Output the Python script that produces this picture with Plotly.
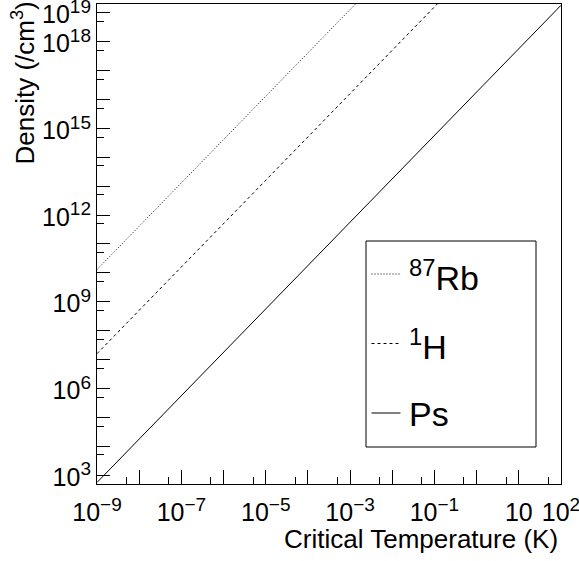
import plotly.graph_objects as go

# ---- data ----
temperature_K = [1e-9, 1e2]
rb87_density = [1.3e10, 4.0e26]
h1_density = [1.6e7, 5.0e23]
ps_density = [5.6e2, 1.8e19]

x_major = [1e-9, 1e-8, 1e-7, 1e-6, 1e-5, 1e-4, 1e-3, 1e-2, 1e-1, 1e0, 1e1, 1e2]
x_exp = ["−9", "", "−7", "", "−5", "", "−3", "", "−1", "", None, "2"]
x_minor = [5e-9, 5e-8, 5e-7, 5e-6, 5e-5, 5e-4, 5e-3, 5e-2, 5e-1, 5e0, 5e1]

y_major = [10.0 ** e for e in range(3, 20)]
y_exp = ["3", "", "", "6", "", "", "9", "", "", "12", "", "", "15", "", "", "18", "19"]
y_minor = [5 * 10.0 ** e for e in range(3, 19)]

FONT = "Liberation Sans, Arial, Helvetica, sans-serif"
SUP = "<sup><span style='font-size:19px'>%s</span></sup>"


def label(e):
    if e is None:
        return "10"
    if e == "":
        return ""
    return "10" + SUP % e


x_labels = [label(e) for e in x_exp]
y_labels = [label(e) for e in y_exp]

W, H = 579, 561
L, R, T, B = 97, 18, 4, 77
PW, PH = W - L - R, H - T - B


def px(xp):
    return (xp - L) / PW


def py(yp):
    return (H - B - yp) / PH


fig = go.Figure()
fig.add_trace(go.Scatter(x=temperature_K, y=rb87_density, mode="lines",
                         line=dict(color="black", width=1, dash="1px,2px"), name="87Rb"))
fig.add_trace(go.Scatter(x=temperature_K, y=h1_density, mode="lines",
                         line=dict(color="black", width=1, dash="3px,3px"), name="1H"))
fig.add_trace(go.Scatter(x=temperature_K, y=ps_density, mode="lines",
                         line=dict(color="black", width=1), name="Ps"))

axis_common = dict(type="log", showgrid=False, zeroline=False, automargin=False,
                   showline=True, linecolor="black", linewidth=1, mirror=True,
                   ticks="inside", tickcolor="black", tickwidth=1, tickmode="array",
                   ticklabeloverflow="allow",
                   tickfont=dict(size=25, family=FONT, color="black"))

fig.update_layout(
    template="none",
    width=W, height=H,
    margin=dict(l=L, r=R, t=T, b=B, autoexpand=False),
    paper_bgcolor="white", plot_bgcolor="white",
    showlegend=False,
    font=dict(family=FONT, color="black"),
    xaxis=dict(axis_common, range=[-9, 2], ticklen=14, ticklabelstandoff=6,
               tickvals=x_major, ticktext=x_labels,
               minor=dict(tickmode="array", tickvals=x_minor, ticks="inside",
                          ticklen=7, tickcolor="black", tickwidth=1, showgrid=False)),
    yaxis=dict(axis_common, range=[2.695, 19.30], ticklen=13, ticklabelshift=2,
               tickvals=y_major, ticktext=y_labels,
               minor=dict(tickmode="array", tickvals=y_minor, ticks="inside",
                          ticklen=7, tickcolor="black", tickwidth=1, showgrid=False)),
)

# axis titles (ROOT style, right aligned)
fig.add_annotation(text="Critical Temperature (K)", xref="paper", yref="paper",
                   x=px(560), y=py(522), xanchor="right", yanchor="top",
                   showarrow=False, font=dict(size=26, family=FONT))
fig.add_annotation(text="Density (/cm<sup>3</sup>)", xref="paper", yref="paper",
                   x=px(24), y=py(0), xanchor="center", yanchor="top", textangle=-90,
                   showarrow=False, font=dict(size=26, family=FONT))

# legend box
fig.add_shape(type="rect", xref="paper", yref="paper",
              x0=px(366), x1=px(536), y0=py(447), y1=py(241),
              line=dict(color="black", width=1), fillcolor="white", layer="above")
entries = [("<sup>87</sup>Rb", "1px,2px", 274), ("<sup>1</sup>H", "3px,3px", 343.5), ("Ps", "solid", 413)]
for text, dash, yy in entries:
    fig.add_shape(type="line", xref="paper", yref="paper",
                  x0=px(371.5), x1=px(400.5), y0=py(yy), y1=py(yy),
                  line=dict(color="black", width=1, dash=dash), layer="above")
    fig.add_annotation(text=text, xref="paper", yref="paper", x=px(407), y=py(yy + 1),
                       xanchor="left", yanchor="middle", showarrow=False,
                       font=dict(size=34, family=FONT))

fig.write_html("out.html", config={"displayModeBar": False},
               post_script="document.body.style.margin='0';")
